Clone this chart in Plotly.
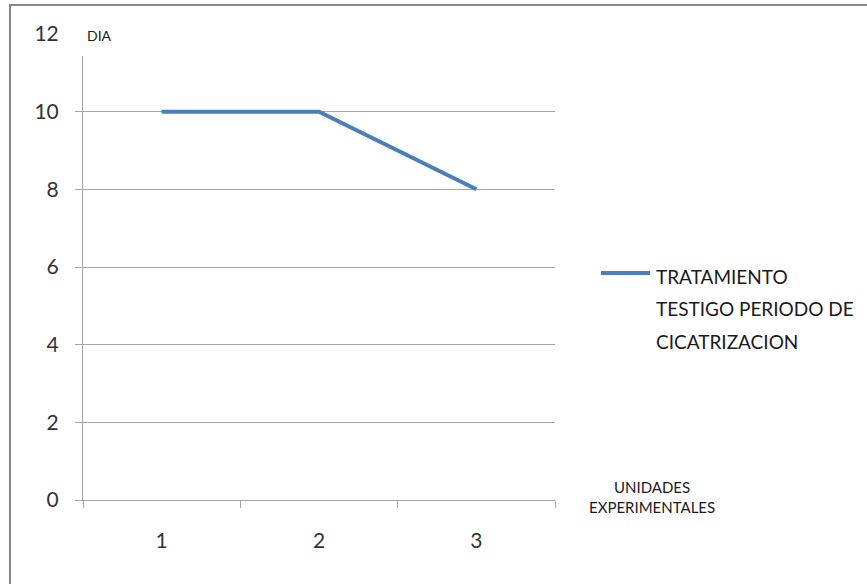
import plotly.graph_objects as go

# Healing period (days) per experimental unit, control treatment
unidades = ["1", "2", "3"]
dias = [10, 10, 8]
serie = "TRATAMIENTO TESTIGO PERIODO DE CICATRIZACION"
serie_lineas = ["TRATAMIENTO", "TESTIGO PERIODO DE", "CICATRIZACION"]
y_ticks = [0, 2, 4, 6, 8, 10, 12]

FONT = "Lato"
GRID = "#a6a6a6"
LINE = "#4a7ebb"
W, H = 867, 584
L, R, T, B = 83, 312, 34, 84
PW, PH = W - L - R, H - T - B


def px_x(x):
    return (x - L) / PW


def px_y(y):
    return 1 - (y - T) / PH


fig = go.Figure()
fig.add_trace(go.Scatter(
    x=unidades, y=dias, mode="lines", name=serie,
    line=dict(color=LINE, width=4), showlegend=False,
))

fig.update_xaxes(
    type="category", range=[-0.5, 2.5], tickson="boundaries",
    showgrid=False, showline=True, linecolor=GRID, linewidth=1,
    ticks="outside", ticklen=7, tickcolor=GRID, tickwidth=1,
    ticklabelstandoff=22,
    tickfont=dict(family=FONT, size=21, color="#333333"),
)
fig.update_yaxes(
    range=[0, 12], tickvals=y_ticks, showgrid=True, gridcolor=GRID, gridwidth=1,
    zeroline=False, showline=True, linecolor=GRID, linewidth=1,
    ticks="outside", ticklen=7, tickcolor=GRID, tickwidth=1,
    ticklabelstandoff=12,
    tickfont=dict(family=FONT, size=21, color="#333333"),
)

shapes = [
    # chart frame
    dict(type="rect", xref="paper", yref="paper", layer="below",
         x0=px_x(10), x1=px_x(900), y0=px_y(5), y1=px_y(620),
         line=dict(color="#868686", width=2), fillcolor="rgba(0,0,0,0)"),
    # white box behind the value-axis title
    dict(type="rect", xref="paper", yref="paper", layer="above",
         x0=px_x(72), x1=px_x(131), y0=px_y(20), y1=px_y(56),
         line=dict(width=0), fillcolor="white"),
    # legend key
    dict(type="line", xref="paper", yref="paper", layer="above",
         x0=px_x(601), x1=px_x(650), y0=px_y(273), y1=px_y(273),
         line=dict(color=LINE, width=4)),
]

annotations = [
    dict(text="DIA", xref="paper", yref="paper", x=px_x(85), y=px_y(35),
         xanchor="left", yanchor="middle", showarrow=False,
         font=dict(family=FONT, size=14, color="#1a1a1a")),
    dict(text="UNIDADES<br>EXPERIMENTALES", xref="paper", yref="paper",
         x=px_x(652), y=px_y(497), xanchor="center", yanchor="middle",
         showarrow=False, align="center",
         font=dict(family=FONT, size=15, color="#1a1a1a")),
]
for i, linea in enumerate(serie_lineas):
    annotations.append(dict(
        text=linea, xref="paper", yref="paper",
        x=px_x(654), y=px_y(276 + 32.5 * i), xanchor="left", yanchor="middle",
        showarrow=False, font=dict(family=FONT, size=19, color="#1a1a1a"),
    ))

fig.update_layout(
    width=W, height=H, margin=dict(l=L, r=R, t=T, b=B),
    paper_bgcolor="white", plot_bgcolor="white",
    shapes=shapes, annotations=annotations, showlegend=False,
)

fig.write_html("out.html")
